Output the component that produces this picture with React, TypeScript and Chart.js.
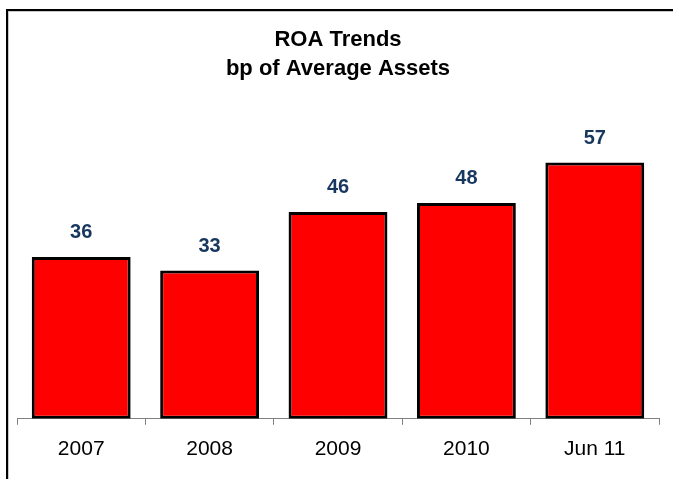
import React, { useEffect, useRef } from "react";
import { Chart, registerables } from "chart.js";

Chart.register(...registerables);

const categories = ["2007", "2008", "2009", "2010", "Jun 11"];
const roaValues = [36, 33, 46, 48, 57];
const titleLines = ["ROA Trends", "bp of Average Assets"];

const FONT = "'Liberation Sans', Arial, Helvetica, sans-serif";

const framePlugin = {
  id: "frame",
  beforeDraw(chart: any) {
    const ctx = chart.ctx;
    ctx.save();
    ctx.fillStyle = "#ffffff";
    ctx.fillRect(0, 0, chart.width, chart.height);
    ctx.fillStyle = "#c8c8c8";
    ctx.fillRect(8, 11, chart.width - 8, 1);
    ctx.fillRect(8, 11, 1, chart.height - 11);
    ctx.fillStyle = "#000000";
    ctx.fillRect(6, 9, chart.width - 6, 2);
    ctx.fillRect(6, 9, 2, chart.height - 9);
    ctx.restore();
  },
};

const valueLabelPlugin = {
  id: "valueLabels",
  afterDatasetsDraw(chart: any) {
    const ctx = chart.ctx;
    const meta = chart.getDatasetMeta(0);
    const data = chart.data.datasets[0].data;
    ctx.save();
    ctx.font = `bold 20px ${FONT}`;
    ctx.fillStyle = "#17375E";
    ctx.textAlign = "center";
    ctx.textBaseline = "middle";
    meta.data.forEach((bar: any, i: number) => {
      ctx.fillText(String(data[i]), bar.x, bar.y - 24);
    });
    ctx.restore();
  },
};

export default function App() {
  const ref = useRef<HTMLCanvasElement | null>(null);

  useEffect(() => {
    if (!ref.current) return;
    const chart = new Chart(ref.current, {
      type: "bar",
      data: {
        labels: categories,
        datasets: [
          {
            data: roaValues,
            backgroundColor: "#FF0000",
            borderColor: "#000000",
            borderWidth: 3,
            borderSkipped: false,
            barPercentage: 0.77,
            categoryPercentage: 1,
          },
        ],
      },
      options: {
        responsive: false,
        animation: false,
        layout: { padding: { top: 26, left: 17, right: 14, bottom: 5 } },
        plugins: {
          legend: { display: false },
          tooltip: { enabled: false },
          title: {
            display: true,
            text: titleLines,
            color: "#000000",
            font: { family: FONT, size: 22, weight: "bold", lineHeight: 1.295 },
            padding: { top: 0, bottom: 66 },
          },
        },
        scales: {
          x: {
            offset: true,
            grid: {
              display: true,
              drawOnChartArea: false,
              drawTicks: true,
              tickLength: 6,
              color: "#808080",
              offset: true,
            },
            border: { display: true, color: "#808080", width: 1 },
            ticks: {
              color: "#000000",
              font: { family: FONT, size: 21 },
              padding: 12,
              maxRotation: 0,
            },
          },
          y: {
            display: false,
            min: 0,
            max: 60,
          },
        },
      },
      plugins: [framePlugin, valueLabelPlugin],
    });
    return () => chart.destroy();
  }, []);

  return (
    <div style={{ position: "absolute", left: 0, top: 0, width: 673, height: 479 }}>
      <canvas ref={ref} width={673} height={479} style={{ display: "block" }} />
    </div>
  );
}
